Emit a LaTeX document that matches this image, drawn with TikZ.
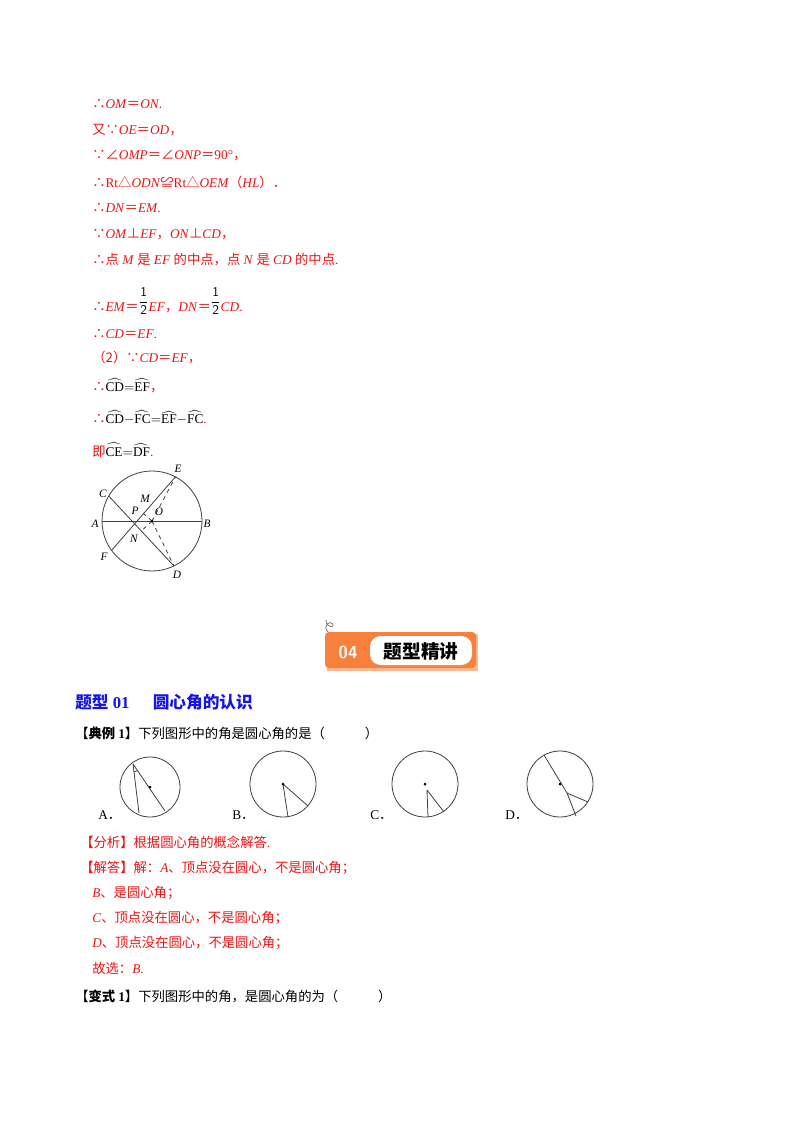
\documentclass[tikz,border=0pt]{standalone}
\usepackage{fontspec}
\usepackage{amsmath}
\setmainfont{Liberation Serif}
\newfontfamily\cjk{Noto Sans CJK SC}
\usetikzlibrary{calc}
\definecolor{ans}{RGB}{235,20,20}
\definecolor{hd}{RGB}{20,20,235}
\definecolor{org}{RGB}{246,128,60}
\newcommand\zh[1]{{\cjk #1}}
\newcommand\ii[1]{\textit{#1}}
\newcommand\arcx[1]{$\widehat{\mathrm{#1}}$}
\newcommand\half{\raisebox{4pt}{\textcolor{black}{$\displaystyle\genfrac{}{}{0.5pt}{0}{\textsf{1}}{\textsf{2}}$}}}
\begin{document}
\begin{tikzpicture}[x=0.75pt,y=-0.75pt,
  tx/.style={anchor=west,inner sep=0pt,font=\fontsize{10}{12}\selectfont},
  rd/.style={tx,text=ans},
  lb/.style={inner sep=0pt,font=\fontsize{8.5}{10}\selectfont\itshape},
  fig/.style={line width=0.6pt,draw=black!75}]
\useasboundingbox (0,0) rectangle (800,1132);
\fill[white] (0,0) rectangle (800,1132);
% proof
\node[rd] (l1) at (92,104) {\zh{∴}\ii{OM}\zh{＝}\ii{ON}.};
\node[rd] (l2) at (92,130) {\zh{又∵}\ii{OE}\zh{＝}\ii{OD}\zh{，}};
\node[rd] (l3) at (92,156) {\zh{∵∠}\ii{OMP}\zh{＝∠}\ii{ONP}\zh{＝}90°\zh{，}};
\node[rd] (l4) at (92,182) {\zh{∴}Rt\zh{△}\ii{ODN}\zh{≌}Rt\zh{△}\ii{OEM}\zh{（}\ii{HL}\zh{）．}};
\node[rd] (l5) at (92,208) {\zh{∴}\ii{DN}\zh{＝}\ii{EM}.};
\node[rd] (l6) at (92,234) {\zh{∵}\ii{OM}\zh{⊥}\ii{EF}\zh{，}\ii{ON}\zh{⊥}\ii{CD}\zh{，}};
\node[rd] (l7) at (92,260) {\zh{∴点} \ii{M} \zh{是} \ii{EF} \zh{的中点，点} \ii{N} \zh{是} \ii{CD} \zh{的中点}.};
\node[rd,anchor=base west] (l8) at (92,311) {\zh{∴}\ii{EM}\zh{＝}\half\ii{EF}\zh{，}\ii{DN}\zh{＝}\half\ii{CD}.};
\node[rd] (l9) at (92,334) {\zh{∴}\ii{CD}\zh{＝}\ii{EF}.};
\node[rd] (l10) at (92,358) {\zh{（2）∵}\ii{CD}\zh{＝}\ii{EF}\zh{，}};
\node[rd] (l11) at (92,386) {\zh{∴}\textcolor{black}{\arcx{CD}$=$\arcx{EF}}\zh{，}};
\node[rd] (l12) at (92,418) {\zh{∴}\textcolor{black}{\arcx{CD}$-$\arcx{FC}$=$\arcx{EF}$-$\arcx{FC}}.};
\node[rd] (l13) at (92,450) {\zh{即}\textcolor{black}{\arcx{CE}$=$\arcx{DF}}.};
% circle figure
\coordinate (O) at (152,521);
\draw[fig] (O) circle (50);
\coordinate (A) at ($(O)+(180:50)$);
\coordinate (B) at ($(O)+(0:50)$);
\coordinate (E) at ($(O)+(-62:50)$);
\coordinate (C) at ($(O)+(-150:50)$);
\coordinate (F) at ($(O)+(-216:50)$);
\coordinate (D) at ($(O)+(64:50)$);
\draw[fig] (A) -- (B);
\draw[fig] (C) -- (D);
\draw[fig] (F) -- (E);
\coordinate (M) at ($(F)!(O)!(E)$);
\coordinate (N) at ($(C)!(O)!(D)$);
\draw[fig,dashed] (O) -- (E) (O) -- (D) (O) -- (M) (O) -- (N);
\fill (O) circle (1.5);
\node[lb] (tA) at (95,524) {A};
\node[lb] (tB) at (207,524) {B};
\node[lb] (tC) at (103,494) {C};
\node[lb] (tE) at (178,469) {E};
\node[lb] (tF) at (104,557) {F};
\node[lb] (tD) at (177,575) {D};
\node[lb] (tM) at (145,499) {M};
\node[lb] (tP) at (135,511) {P};
\node[lb] (tO) at (159,512) {O};
\node[lb] (tN) at (134,539) {N};
% banner
\fill[org!55] (327,634) rectangle (478,671);
\fill[org,rounded corners=3pt] (325,632) rectangle (476,668);
\fill[white,rounded corners=8pt] (370,636) rectangle (472,665);
\node[inner sep=0pt,text=white,font=\fontsize{13}{14}\selectfont\bfseries\sffamily] (n04) at (348,652) {04};
\node[inner sep=0pt,font=\fontsize{14}{15}\selectfont\cjk\bfseries] (ban) at (421,651) {题型精讲};
\draw[black!60,line width=0.5pt] (328,632) .. controls (322,625) and (330,620) .. (333,624) .. controls (335,628) and (326,628) .. (326,620);
% headings
\node[tx,text=hd,font=\fontsize{12.5}{14}\selectfont\bfseries] (h1) at (75,702) {\zh{题型} 01\hspace{1.4em}\zh{圆心角的认识}};
\node[tx] (q1) at (75,733) {\zh{【\textbf{典例} }\textbf{1}\zh{】下列图形中的角是圆心角的是（\hspace{3em}）}};
% four circles
\node[tx] (oa) at (98,815) {A\zh{．}};
\node[tx] (ob) at (232,815) {B\zh{．}};
\node[tx] (oc) at (370,815) {C\zh{．}};
\node[tx] (od) at (505,815) {D\zh{．}};
\coordinate (ca) at (150,787);
\draw[fig] (ca) circle (30);
\coordinate (va) at (133,764);
\draw[fig] (va) -- (139,813) (va) -- (165,811);
\draw[fig] ($(va)!6pt!(139,813)$) -- ($(va)!6pt!(165,811)$);
\fill (ca) circle (1.5);
\coordinate (cb) at (283,784);
\draw[fig] (cb) circle (33);
\draw[fig] (cb) -- (288,817) (cb) -- (308,806);
\fill (cb) circle (1.5);
\coordinate (cc) at (425,784);
\draw[fig] (cc) circle (33);
\coordinate (vc) at (427,790);
\draw[fig] (vc) -- (428,817) (vc) -- (444,812);
\fill (cc) circle (1.5);
\coordinate (cd) at (560,784);
\draw[fig] (cd) circle (33);
\coordinate (vd) at (567,793);
\draw[fig] (544,755) -- (vd) -- (576,816) (vd) -- (588,802);
\fill (cd) circle (1.5);
% answer
\node[rd] (a1) at (80,842) {\zh{【分析】根据圆心角的概念解答}.};
\node[rd] (a2) at (80,868) {\zh{【解答】解：}\ii{A}\zh{、顶点没在圆心，不是圆心角；}};
\node[rd] (a3) at (92,893) {\ii{B}\zh{、是圆心角；}};
\node[rd] (a4) at (92,918) {\ii{C}\zh{、顶点没在圆心，不是圆心角；}};
\node[rd] (a5) at (92,943) {\ii{D}\zh{、顶点没在圆心，不是圆心角；}};
\node[rd] (a6) at (92,968) {\zh{故选：}\ii{B}.};
\node[tx] (q2) at (75,996) {\zh{【\textbf{变式} }\textbf{1}\zh{】下列图形中的角，是圆心角的为（\hspace{3em}）}};
\end{tikzpicture}
\end{document}
